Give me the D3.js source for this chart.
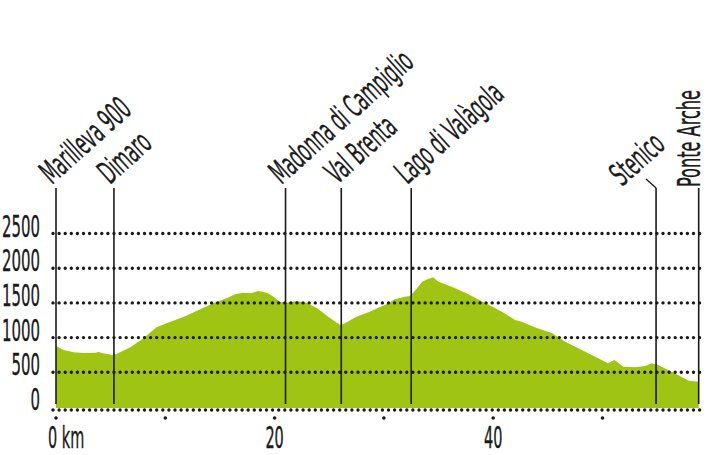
<!DOCTYPE html>
<html>
<head>
<meta charset="utf-8">
<script src="https://cdn.jsdelivr.net/npm/d3@7/dist/d3.min.js"></script>
<style>
  html, body { margin: 0; padding: 0; background: #fff; }
  svg { display: block; }
  text { font-family: "Liberation Sans Narrow", "DejaVu Sans Condensed", "Liberation Sans", sans-serif; fill: #1a1a1a; stroke: #1a1a1a; stroke-width: 0.35; }
</style>
</head>
<body>
<svg id="chart" width="712" height="455"></svg>
<script>
// ---- data ----
const distanceKm = [0, 0.7, 1.6, 2.5, 3.6, 3.9, 4.3, 5.2, 5.5, 6.8, 8.0, 9.2, 10.1, 11.7, 12.9, 14.4, 15.6, 16.4, 17.1, 17.8, 18.5, 19.3, 19.9, 20.5, 21.1, 22.0, 22.9, 23.9, 25.1, 26.0, 26.3, 27.5, 28.7, 29.6, 30.1, 31.0, 31.9, 32.4, 32.9, 33.5, 34.1, 34.5, 35.0, 36.2, 37.7, 39.3, 40.8, 42.0, 42.6, 43.8, 45.4, 46.6, 48.1, 49.6, 50.5, 51.1, 51.9, 53.0, 53.9, 54.5, 55.1, 56.0, 56.9, 57.9, 58.8];
const elevationM = [880, 820, 790, 778, 783, 793, 773, 750, 760, 860, 990, 1148, 1206, 1300, 1388, 1494, 1566, 1624, 1647, 1638, 1671, 1647, 1589, 1513, 1503, 1527, 1503, 1422, 1278, 1182, 1196, 1300, 1373, 1437, 1470, 1552, 1589, 1600, 1686, 1806, 1849, 1869, 1806, 1734, 1628, 1494, 1373, 1254, 1229, 1148, 1062, 941, 821, 702, 630, 677, 581, 572, 591, 630, 605, 533, 461, 379, 365];
const placeNames = ["Marilleva 900", "Dimaro", "Madonna di Campiglio", "Val Brenta", "Lago di Valàgola", "Stenico", "Ponte Arche"];
const placeKm = [0, 5.3, 21.0, 26.1, 32.5, 54.9, 58.8];
const yTickValues = [0, 500, 1000, 1500, 2000, 2500];
const yTickLabels = ["0", "500", "1000", "1500", "2000", "2500"];
const xTickValues = [0, 10, 20, 30, 40, 50];
const xLabelValues = [0, 20, 40];
const xLabelTexts = ["0 km", "20", "40"];

// ---- layout ----
const svg = d3.select("#chart");
const x = d3.scaleLinear().domain([0, 60]).range([56, 711.8]);
const y = d3.scaleLinear().domain([0, 2500]).range([407, 233.5]);
const green = "#a0c414";
const ink = "#1a1a1a";
const fontSize = 31;
const labelSize = 32;
const labelAngle = -42;

// measure installed font to condense it to the reference's narrow face
function widthOf(str, size) {
  const t = svg.append("text").attr("font-size", size).text(str);
  const w = t.node().getComputedTextLength();
  t.remove();
  return w;
}
const condense = 38 / widthOf("2500", fontSize);
const labelCondense = 97 / widthOf("Ponte Arche", labelSize);

const profile = distanceKm.map((d, i) => ({ km: d, ele: elevationM[i] }));

// area
const area = d3.area()
  .x(d => x(d.km))
  .y0(y(0) + 1)
  .y1(d => y(d.ele))
  .curve(d3.curveLinear);
svg.append("path").datum(profile).attr("d", area).attr("fill", green);

// dotted grid lines
const gridX0 = 53, gridX1 = 704;
const dotStyle = sel => sel
  .attr("stroke", ink).attr("stroke-width", 3.4)
  .attr("stroke-linecap", "round")
  .attr("stroke-dasharray", "0 6.1");
svg.append("g").selectAll("line")
  .data(yTickValues.filter(v => v > 0))
  .join("line")
  .attr("x1", gridX0).attr("x2", gridX1)
  .attr("y1", d => y(d)).attr("y2", d => y(d))
  .call(dotStyle);

// x axis dotted line
svg.append("line")
  .attr("x1", gridX0).attr("x2", gridX1)
  .attr("y1", y(0) + 3).attr("y2", y(0) + 3)
  .call(dotStyle);

// x tick dots
svg.append("g").selectAll("circle")
  .data(xTickValues)
  .join("circle")
  .attr("cx", d => x(d)).attr("cy", y(0) + 11)
  .attr("r", 1.8).attr("fill", ink);

// y tick labels
svg.append("g").selectAll("text")
  .data(yTickValues)
  .join("text")
  .attr("text-anchor", "end")
  .attr("font-size", fontSize)
  .attr("transform", d => `translate(40,${y(d) + 3}) scale(${condense},1)`)
  .text((d, i) => yTickLabels[i]);

// x labels
svg.append("g").selectAll("text")
  .data(xLabelValues)
  .join("text")
  .attr("text-anchor", (d, i) => i === 0 ? "start" : "middle")
  .attr("font-size", fontSize - 1)
  .attr("transform", (d, i) => `translate(${i === 0 ? x(d) - 8 : x(d)},448) scale(${condense},1)`)
  .text((d, i) => xLabelTexts[i]);

// place marker lines
const lineTop = 188, lineBottom = 404;
svg.append("g").selectAll("line")
  .data(placeKm)
  .join("line")
  .attr("x1", d => x(d)).attr("x2", d => x(d))
  .attr("y1", lineTop).attr("y2", lineBottom)
  .attr("stroke", ink).attr("stroke-width", 1.6);

// place labels
const lastIdx = placeNames.length - 1;
svg.append("g").selectAll("text")
  .data(placeNames)
  .join("text")
  .attr("font-size", labelSize)
  .attr("transform", (d, i) => {
    const px = x(placeKm[i]);
    if (i === lastIdx) return `translate(${px + 1},${lineTop - 1}) rotate(-90) scale(${labelCondense},1)`;
    if (d === "Stenico") return `translate(${px - 34},${lineTop - 1}) rotate(${labelAngle}) scale(${labelCondense},1)`;
    return `translate(${px - 4},${lineTop - 3}) rotate(${labelAngle}) scale(${labelCondense},1)`;
  })
  .text(d => d);

// Stenico leader
const sten = placeKm[placeNames.indexOf("Stenico")];
svg.append("line")
  .attr("x1", x(sten) - 10).attr("y1", lineTop - 9)
  .attr("x2", x(sten)).attr("y2", lineTop)
  .attr("stroke", ink).attr("stroke-width", 1.4);
</script>
</body>
</html>
